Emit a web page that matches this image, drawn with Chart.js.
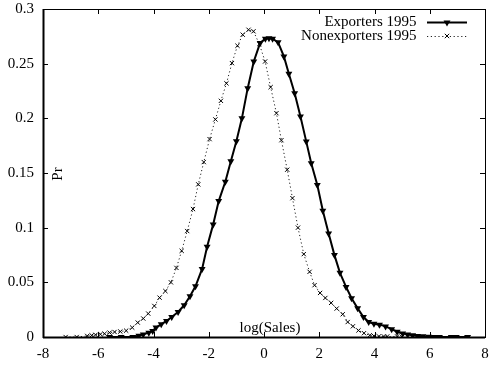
<!DOCTYPE html>
<html>
<head>
<meta charset="utf-8">
<script src="https://cdn.jsdelivr.net/npm/chart.js@4/dist/chart.umd.min.js"></script>
<style>
html,body{margin:0;padding:0;background:#fff;}
#wrap{width:490px;height:369px;}
</style>
</head>
<body>
<div id="wrap"><canvas id="c" width="490" height="369"></canvas></div>
<script>
// ---- data ----
const seriesNames = ["Exporters 1995", "Nonexporters 1995"];
const axisTitles = {x: "log(Sales)", y: "Pr"};
const xTicks = [-8, -6, -4, -2, 0, 2, 4, 6, 8];
const yTicks = [0, 0.05, 0.1, 0.15, 0.2, 0.25, 0.3];

const exportersX = [-5.59, -5.17, -4.75, -4.53, -4.37, -4.17, -4.03, -3.91, -3.72, -3.53, -3.34, -3.11, -2.89, -2.68, -2.48, -2.24, -2.06, -1.84, -1.64, -1.40, -1.20, -1.00, -0.80, -0.59, -0.37, -0.14, 0.05, 0.18, 0.31, 0.51, 0.72, 0.90, 1.11, 1.32, 1.53, 1.71, 1.93, 2.13, 2.34, 2.55, 2.75, 2.97, 3.17, 3.39, 3.60, 3.79, 3.98, 4.18, 4.40, 4.62, 4.82, 5.02, 5.20, 5.38, 5.56, 5.75, 5.96, 6.16, 6.35, 6.78, 6.96, 7.37];
const exportersY = [0.0, 0.0, 0.0, 0.0012, 0.0024, 0.004, 0.0055, 0.0086, 0.0116, 0.0147, 0.0183, 0.0229, 0.029, 0.0373, 0.0464, 0.0623, 0.0825, 0.103, 0.1243, 0.142, 0.1607, 0.179, 0.200, 0.2276, 0.252, 0.269, 0.2728, 0.2732, 0.2728, 0.2695, 0.2566, 0.2408, 0.223, 0.2017, 0.1787, 0.1589, 0.139, 0.1155, 0.0947, 0.0749, 0.0587, 0.0458, 0.0355, 0.0262, 0.0183, 0.0137, 0.0122, 0.0113, 0.0097, 0.0072, 0.0048, 0.0032, 0.0022, 0.0015, 0.001, 0.0006, 0.0003, 0.0, 0.0, 0.0, 0.0, 0.0];

const nonexportersX = [-7.18, -6.78, -6.40, -6.24, -6.10, -5.92, -5.77, -5.59, -5.41, -5.20, -4.99, -4.77, -4.57, -4.37, -4.19, -3.97, -3.78, -3.57, -3.37, -3.17, -2.98, -2.78, -2.57, -2.38, -2.18, -1.97, -1.76, -1.56, -1.36, -1.16, -0.96, -0.77, -0.56, -0.38, -0.17, 0.04, 0.24, 0.45, 0.63, 0.84, 1.03, 1.23, 1.44, 1.65, 1.83, 2.03, 2.22, 2.43, 2.63, 2.85, 3.03, 3.22, 3.42, 3.62, 3.83, 3.98, 4.16, 4.34, 4.46, 4.82, 5.00];
const nonexportersY = [0.0, 0.0, 0.001, 0.0015, 0.002, 0.0025, 0.003, 0.004, 0.0046, 0.005, 0.0058, 0.0086, 0.0132, 0.0169, 0.0214, 0.0284, 0.036, 0.042, 0.05, 0.0632, 0.0788, 0.0969, 0.117, 0.1396, 0.160, 0.181, 0.199, 0.216, 0.232, 0.2505, 0.2664, 0.2765, 0.281, 0.2796, 0.268, 0.252, 0.2285, 0.2047, 0.180, 0.153, 0.127, 0.100, 0.0758, 0.0596, 0.0474, 0.0403, 0.0357, 0.0312, 0.026, 0.0208, 0.0137, 0.0098, 0.006, 0.0035, 0.0015, 0.001, 0.0006, 0.0005, 0.0005, 0.0005, 0.0];

const FONT = "'Liberation Serif', 'DejaVu Serif', serif";

function pairs(xs, ys){ return xs.map((x,i)=>({x:x, y:ys[i]})); }

// ---- custom gnuplot-like decorations ----
const gnuplotDeco = {
  id: 'gnuplotDeco',
  afterDraw(chart){
    const ctx = chart.ctx;
    const a = chart.chartArea;
    const xs = chart.scales.x, ys = chart.scales.y;
    ctx.save();
    ctx.strokeStyle = '#000';
    ctx.lineWidth = 1;
    const tl = 5;
    ctx.beginPath();
    xTicks.forEach(v=>{
      const px = Math.round(xs.getPixelForValue(v))+0.5;
      ctx.moveTo(px, a.bottom); ctx.lineTo(px, a.bottom - tl);
      ctx.moveTo(px, a.top); ctx.lineTo(px, a.top + tl);
    });
    yTicks.forEach(v=>{
      const py = Math.round(ys.getPixelForValue(v))+0.5;
      ctx.moveTo(a.left, py); ctx.lineTo(a.left + tl, py);
      ctx.moveTo(a.right, py); ctx.lineTo(a.right - tl, py);
    });
    ctx.stroke();
    ctx.lineWidth = 1;
    ctx.strokeRect(Math.round(a.left)+0.5, Math.round(a.top)+0.5, Math.round(a.right-a.left), Math.round(a.bottom-a.top));
    ctx.lineWidth = 2;
    ctx.beginPath();
    ctx.moveTo(Math.round(a.left)+0.5, a.top); ctx.lineTo(Math.round(a.left)+0.5, a.bottom+1);
    ctx.moveTo(a.left, Math.round(a.bottom)+0.5); ctx.lineTo(a.right, Math.round(a.bottom)+0.5);
    ctx.stroke();

    ctx.fillStyle = '#000';
    ctx.font = "15px " + FONT;
    ctx.textAlign = 'center';
    ctx.textBaseline = 'middle';
    ctx.fillText(axisTitles.x, (xs.getPixelForValue(0) + 6), a.bottom - 9);
    ctx.save();
    ctx.translate(a.left + 15, ys.getPixelForValue(0.15) + 1);
    ctx.rotate(-Math.PI/2);
    ctx.fillText(axisTitles.y, 0, 0);
    ctx.restore();

    const textRight = 416.5;
    const x0 = 427, x1 = 467, xm = 447;
    const rows = [a.top + 13.5, a.top + 27];
    ctx.textAlign = 'right';
    ctx.fillText(seriesNames[0], textRight, rows[0]);
    ctx.fillText(seriesNames[1], textRight, rows[1]);
    ctx.lineWidth = 2;
    ctx.setLineDash([]);
    ctx.beginPath(); ctx.moveTo(x0, rows[0]); ctx.lineTo(x1, rows[0]); ctx.stroke();
    const r = 4;
    ctx.beginPath();
    ctx.moveTo(xm - r*0.866, rows[0] - r*0.5);
    ctx.lineTo(xm + r*0.866, rows[0] - r*0.5);
    ctx.lineTo(xm, rows[0] + r);
    ctx.closePath(); ctx.fill();
    ctx.lineWidth = 1;
    ctx.strokeStyle = '#222';
    ctx.setLineDash([1.2, 2.6]);
    ctx.beginPath(); ctx.moveTo(x0, rows[1]+0.5); ctx.lineTo(x1, rows[1]+0.5); ctx.stroke();
    ctx.setLineDash([]);
    ctx.strokeStyle = '#000';
    const c = 2.2;
    ctx.beginPath();
    ctx.moveTo(xm-c, rows[1]-c); ctx.lineTo(xm+c, rows[1]+c);
    ctx.moveTo(xm+c, rows[1]-c); ctx.lineTo(xm-c, rows[1]+c);
    ctx.stroke();
    ctx.restore();
  }
};

new Chart(document.getElementById('c'), {
  type: 'scatter',
  data: {
    datasets: [
      {
        label: seriesNames[1],
        data: pairs(nonexportersX, nonexportersY),
        showLine: true,
        borderColor: '#222',
        borderWidth: 1,
        borderDash: [1.2, 2.6],
        pointStyle: 'crossRot',
        pointRadius: 3,
        pointBorderWidth: 1,
        pointBorderColor: '#000',
        pointBackgroundColor: '#000',
        tension: 0,
        order: 2
      },
      {
        label: seriesNames[0],
        data: pairs(exportersX, exportersY),
        showLine: true,
        borderColor: '#000',
        borderWidth: 2,
        pointStyle: 'triangle',
        pointRotation: 180,
        pointRadius: 4,
        pointBorderWidth: 0,
        pointBackgroundColor: '#000',
        pointBorderColor: '#000',
        tension: 0,
        order: 1
      }
    ]
  },
  options: {
    responsive: false,
    animation: false,
    devicePixelRatio: 1,
    layout: {padding: {top: 0, right: 0, left: 0, bottom: 0}},
    plugins: {legend: {display: false}, tooltip: {enabled: false}},
    scales: {
      x: {
        type: 'linear', min: -8, max: 8,
        afterBuildTicks: s => { s.ticks = xTicks.map(v=>({value:v})); },
        afterFit: s => { s.height = 32; s.paddingLeft = 0; s.paddingRight = 5; },
        grid: {display: false, drawTicks: false},
        border: {display: false},
        ticks: {color: '#000', padding: 8, maxRotation: 0, autoSkip: false,
                font: {family: FONT, size: 15},
                callback: v => String(v)}
      },
      y: {
        type: 'linear', min: 0, max: 0.3,
        afterBuildTicks: s => { s.ticks = yTicks.map(v=>({value:v})); },
        afterFit: s => { s.width = 43; s.paddingTop = 9; s.paddingBottom = 0; },
        grid: {display: false, drawTicks: false},
        border: {display: false},
        ticks: {color: '#000', padding: 9, autoSkip: false,
                font: {family: FONT, size: 15},
                callback: v => String(Math.round(v*100)/100)}
      }
    }
  },
  plugins: [gnuplotDeco]
});
</script>
</body>
</html>
